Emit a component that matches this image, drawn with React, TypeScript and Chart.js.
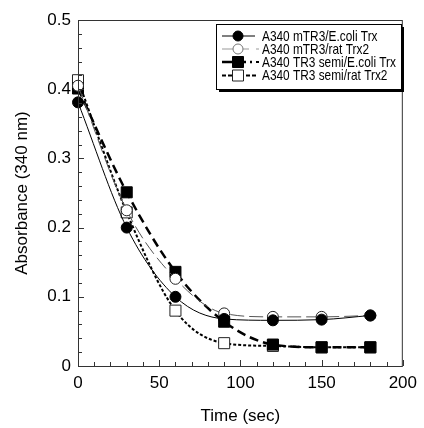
import React, { useEffect, useRef } from "react";
import { Chart, registerables } from "chart.js";

Chart.register(...registerables);

const timeSec = [0, 30, 60, 90, 120, 150, 180];
const mTR3Ecoli = [0.381, 0.2, 0.1, 0.068, 0.066, 0.067, 0.073];
const mTR3Rat = [0.405, 0.225, 0.126, 0.076, 0.071, 0.071, 0.073];
const semiEcoli = [0.401, 0.251, 0.136, 0.064, 0.031, 0.027, 0.027];
const semiRat = [0.413, 0.222, 0.08, 0.033, 0.029, 0.027, 0.027];

const seriesLabels = [
  "A340 mTR3/E.coli Trx",
  "A340 mTR3/rat Trx2",
  "A340 TR3 semi/E.coli Trx",
  "A340 TR3 semi/rat Trx2",
];
const xTicks = [0, 50, 100, 150, 200];
const yTicks = [0, 0.1, 0.2, 0.3, 0.4, 0.5];
const xTitle = "Time (sec)";
const yTitle = "Absorbance (340 nm)";

const FONT = "'Liberation Sans', Arial, Helvetica, sans-serif";

const styles = [
  { line: "#000", width: 1, dash: [] as number[], point: "circle", fill: "#000", stroke: "#000", r: 5.5, legendLine: "#000" },
  { line: "#555", width: 1, dash: [14, 5], point: "circle", fill: "#fff", stroke: "#222", r: 5.5, legendLine: "#999" },
  { line: "#000", width: 2.5, dash: [9, 5], point: "rect", fill: "#000", stroke: "#000", r: 7.8, legendLine: "#000" },
  { line: "#000", width: 2, dash: [3, 2], point: "rect", fill: "#fff", stroke: "#222", r: 7.8, legendLine: "#000" },
];

const frameTicks = {
  id: "frameTicks",
  afterDraw(chart: any) {
    const { ctx, chartArea: a, scales } = chart;
    const xs = scales.x;
    const ys = scales.y;
    ctx.save();
    ctx.strokeStyle = "#333";
    ctx.lineWidth = 1;
    ctx.setLineDash([]);
    ctx.strokeRect(a.left + 0.5, a.top + 0.5, a.right - a.left - 1, a.bottom - a.top);
    ctx.beginPath();
    for (let v = 0; v <= 200; v += 10) {
      const px = Math.round(xs.getPixelForValue(v)) + 0.5;
      const len = v % 50 === 0 ? 6 : 4;
      ctx.moveTo(px, a.bottom);
      ctx.lineTo(px, a.bottom - len);
    }
    for (let i = 0; i <= 25; i++) {
      const v = i * 0.02;
      const py = Math.round(ys.getPixelForValue(v)) + 0.5;
      const len = i % 5 === 0 ? 6 : 4;
      ctx.moveTo(a.left, py);
      ctx.lineTo(a.left + len, py);
    }
    ctx.stroke();
    ctx.restore();
  },
};

const boxLegend = {
  id: "boxLegend",
  afterDraw(chart: any) {
    const { ctx } = chart;
    const x0 = 216, y0 = 24, w = 185, h = 65;
    ctx.save();
    ctx.setLineDash([]);
    ctx.fillStyle = "#000";
    ctx.fillRect(x0 + 3, y0 + 3, w, h);
    ctx.fillStyle = "#fff";
    ctx.fillRect(x0, y0, w, h);
    ctx.strokeStyle = "#000";
    ctx.lineWidth = 1;
    ctx.strokeRect(x0 + 0.5, y0 + 0.5, w, h);
    ctx.font = `14.5px ${FONT}`;
    ctx.textBaseline = "middle";
    ctx.textAlign = "left";
    const fitScale = 134 / ctx.measureText(seriesLabels[2]).width;
    const rows = [36, 49, 62, 75.5];
    const mx = 238;
    seriesLabels.forEach((lab, i) => {
      const s = styles[i];
      const y = rows[i];
      ctx.strokeStyle = s.legendLine;
      ctx.lineWidth = s.width;
      ctx.beginPath();
      if (i === 0) {
        ctx.setLineDash([]);
        ctx.moveTo(222, y);
        ctx.lineTo(255, y);
      } else if (i === 1) {
        ctx.setLineDash([]);
        ctx.moveTo(222, y);
        ctx.lineTo(249, y);
      } else if (i === 2) {
        ctx.setLineDash([10, 4]);
        ctx.moveTo(222, y);
        ctx.lineTo(252, y);
      } else {
        ctx.setLineDash([4, 2]);
        ctx.moveTo(222, y);
        ctx.lineTo(258, y);
      }
      ctx.stroke();
      if (i === 1 || i === 2) {
        ctx.setLineDash([]);
        ctx.lineWidth = i === 1 ? 1 : 2;
        ctx.strokeStyle = i === 1 ? "#999" : "#000";
        ctx.beginPath();
        ctx.moveTo(256, y);
        ctx.lineTo(259, y);
        ctx.stroke();
      }
      ctx.setLineDash([]);
      ctx.lineWidth = 1;
      ctx.fillStyle = s.fill;
      ctx.strokeStyle = i === 1 ? "#777" : s.stroke;
      ctx.beginPath();
      if (s.point === "circle") {
        ctx.arc(mx, y, 5, 0, Math.PI * 2);
      } else {
        ctx.rect(mx - 5.5, y - 5.5, 11, 11);
      }
      ctx.fill();
      ctx.stroke();
      ctx.fillStyle = "#000";
      ctx.save();
      ctx.translate(262, y + 0.5);
      ctx.scale(fitScale, 1);
      ctx.fillText(lab, 0, 0);
      ctx.restore();
    });
    ctx.restore();
  },
};

export default function App() {
  const ref = useRef<HTMLCanvasElement>(null);
  useEffect(() => {
    document.body.style.margin = "0";
    const all = [mTR3Ecoli, mTR3Rat, semiEcoli, semiRat];
    const chart = new Chart(ref.current!, {
      type: "line",
      data: {
        datasets: all.map((vals, i) => {
          const s = styles[i];
          return {
            label: seriesLabels[i],
            data: timeSec.map((t, k) => ({ x: t, y: vals[k] })),
            borderColor: s.line,
            borderWidth: s.width,
            borderDash: s.dash,
            cubicInterpolationMode: "monotone" as const,
            pointStyle: s.point as any,
            pointRadius: s.r,
            pointBackgroundColor: s.fill,
            pointBorderColor: s.stroke,
            pointBorderWidth: 1,
            fill: false,
            clip: false as any,
          };
        }),
      },
      options: {
        animation: false,
        responsive: false,
        devicePixelRatio: 1,
        layout: { padding: { top: 20, right: 16, left: 0, bottom: 0 } },
        plugins: { legend: { display: false }, tooltip: { enabled: false } },
        scales: {
          x: {
            type: "linear",
            min: 0,
            max: 200,
            afterFit: (s: any) => { s.height = 62; },
            afterBuildTicks: (s: any) => { s.ticks = xTicks.map((v) => ({ value: v })); },
            grid: { display: false, drawTicks: false },
            border: { display: false },
            ticks: { color: "#000", padding: 7, font: { family: FONT, size: 17 }, maxRotation: 0 },
            title: { display: true, text: xTitle, color: "#000", padding: 1, font: { family: FONT, size: 17 } },
          },
          y: {
            type: "linear",
            min: 0,
            max: 0.5,
            afterFit: (s: any) => { s.width = 78; },
            afterBuildTicks: (s: any) => { s.ticks = yTicks.map((v) => ({ value: v })); },
            grid: { display: false, drawTicks: false },
            border: { display: false },
            ticks: {
              color: "#000",
              padding: 7,
              font: { family: FONT, size: 17 },
              callback: (v: any) => (Number(v) === 0 ? "0" : Number(v).toFixed(1)),
            },
            title: { display: true, text: yTitle, color: "#000", padding: 12, font: { family: FONT, size: 17 } },
          },
        },
      },
      plugins: [frameTicks, boxLegend],
    });
    return () => chart.destroy();
  }, []);
  return (
    <div style={{ position: "absolute", left: 0, top: 0, width: 424, height: 428, background: "#fff" }}>
      <canvas ref={ref} width={424} height={428} />
    </div>
  );
}
